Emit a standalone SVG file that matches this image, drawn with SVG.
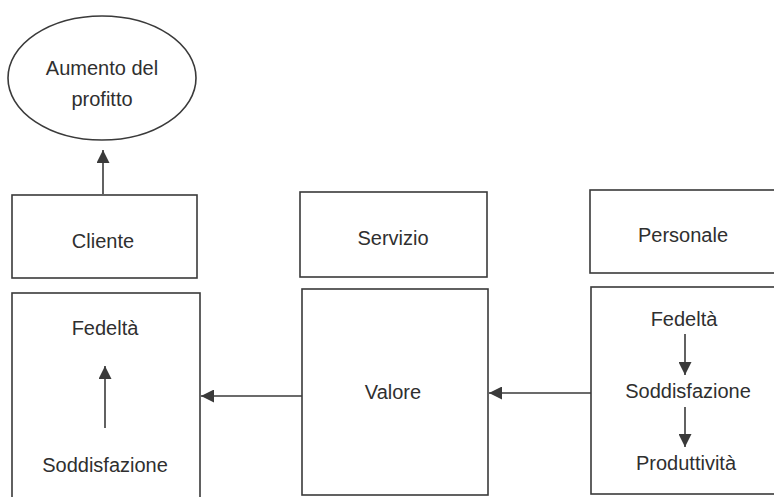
<svg xmlns="http://www.w3.org/2000/svg" width="774" height="497" viewBox="0 0 774 497">
  <style>
    .box { fill: none; stroke: #3a3a3a; stroke-width: 1.6; }
    .lbl { font-family: "Liberation Sans", Arial, sans-serif; font-size: 20px; fill: #2f2f2f; text-anchor: middle; dominant-baseline: central; }
    .link { fill: none; stroke: #3a3a3a; stroke-width: 1.6; marker-end: url(#head); }
  </style>
  <defs>
    <marker id="head" viewBox="0 0 10 10" refX="10" refY="5" markerWidth="13" markerHeight="13" markerUnits="userSpaceOnUse" orient="auto">
      <path d="M0,0 L10,5 L0,10 Z" fill="#3a3a3a"/>
    </marker>
  </defs>
  <rect width="774" height="497" fill="#ffffff"/>

  <g id="profitto">
    <ellipse class="box" cx="102" cy="78" rx="94" ry="62"/>
    <text class="lbl" x="102" y="68">Aumento del</text>
    <text class="lbl" x="102" y="99">profitto</text>
  </g>

  <g id="cliente">
    <rect class="box" x="12" y="195" width="185" height="83"/>
    <text class="lbl" x="103" y="241">Cliente</text>
  </g>

  <g id="cliente-dettaglio">
    <rect class="box" x="12" y="293" width="188" height="215"/>
    <text class="lbl" x="105" y="328">Fedeltà</text>
    <text class="lbl" x="105" y="465">Soddisfazione</text>
  </g>

  <g id="servizio">
    <rect class="box" x="300" y="192" width="187" height="85"/>
    <text class="lbl" x="393" y="238">Servizio</text>
  </g>

  <g id="valore">
    <rect class="box" x="302" y="289" width="186" height="206"/>
    <text class="lbl" x="393" y="392">Valore</text>
  </g>

  <g id="personale">
    <rect class="box" x="590" y="190" width="200" height="83"/>
    <text class="lbl" x="683" y="235">Personale</text>
  </g>

  <g id="personale-dettaglio">
    <rect class="box" x="591" y="287" width="200" height="207"/>
    <text class="lbl" x="684" y="319">Fedeltà</text>
    <text class="lbl" x="688" y="391">Soddisfazione</text>
    <text class="lbl" x="686" y="463">Produttività</text>
  </g>

  <g id="connectors">
    <line class="link" x1="103" y1="194" x2="103" y2="150"/>
    <line class="link" x1="105" y1="428" x2="105" y2="366"/>
    <line class="link" x1="302" y1="396" x2="201" y2="396"/>
    <line class="link" x1="591" y1="393" x2="489" y2="393"/>
    <line class="link" x1="685" y1="334" x2="685" y2="375"/>
    <line class="link" x1="685" y1="407" x2="685" y2="447"/>
  </g>
</svg>
